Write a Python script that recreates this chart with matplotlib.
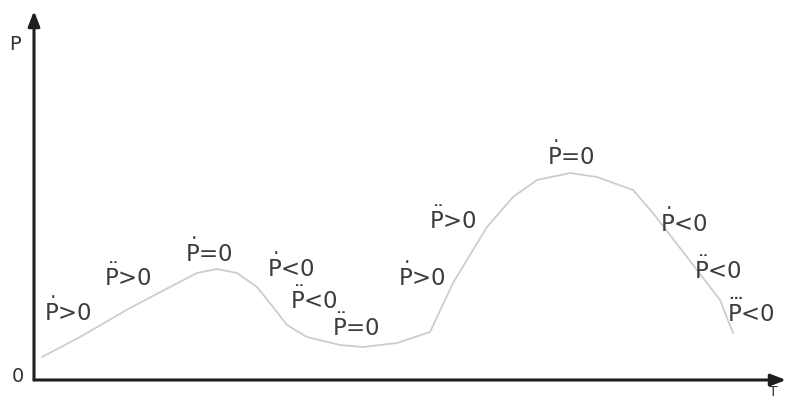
import numpy as np
import matplotlib
matplotlib.use("Agg")
from matplotlib import pyplot as plt

# curve (T along the axis, P height above it)
t_vals = [8, 46, 96, 136, 163, 183, 203, 223, 239, 253, 273, 306, 329, 363, 396,
          403, 419, 453, 479, 503, 536, 563, 599, 619, 653, 686, 699]
p_vals = [23, 43, 72, 93, 107, 111, 107, 93, 73, 55, 43, 35, 33, 37, 48,
          63, 97, 153, 183, 200, 207, 203, 190, 167, 123, 80, 47]

# annotations: text, left T, centre P, dot count
lab_text = ["P>0", "P>0", "P=0", "P<0", "P<0", "P=0",
            "P>0", "P>0", "P=0", "P<0", "P<0", "P<0"]
lab_dots = [1, 2, 1, 1, 2, 2, 1, 2, 1, 1, 2, 3]
lab_t = [10, 70, 151, 233, 256, 298, 364, 395, 513, 626, 660, 693]
lab_p = [68, 103, 127, 112, 80, 53, 103, 160, 224, 157, 110, 67]

accent = {1: r"\dot", 2: r"\ddot", 3: r"\dddot"}


def label(txt, dots):
	return "$" + accent[dots] + r"{\mathregular{P}}$" + txt[1:]


fig = plt.figure(figsize=(7.86, 4.01), dpi=100)
ax = fig.add_axes([0, 0, 1, 1])
ax.set_xlim(-34, 752)
ax.set_ylim(-21, 380)
ax.axis("off")

ax.plot(t_vals, p_vals, color="#cdcdcd", lw=1.3, solid_joinstyle="round")

for txt, d, tx, py in zip(lab_text, lab_dots, lab_t, lab_p):
	ax.text(tx, py, label(txt, d), fontsize=16.5, color="#3c3c3c",
		ha="left", va="center")

# axes with arrow heads
arr = dict(arrowstyle="-|>,head_width=0.35,head_length=0.9", color="#1e1e1e", lw=2.2,
	shrinkA=0, shrinkB=0)
ax.annotate("", xy=(0, 369), xytext=(0, 0), arrowprops=arr)
ax.annotate("", xy=(752, 0), xytext=(0, 0), arrowprops=arr)

ax.text(-19, 335, "P", fontsize=14, color="#333333", ha="center", va="center")
ax.text(-16, 3, "0", fontsize=14, color="#333333", ha="center", va="center")
ax.text(739, -12, "T", fontsize=10, color="#333333", ha="center", va="center")

fig.savefig("out.png", dpi=100)
